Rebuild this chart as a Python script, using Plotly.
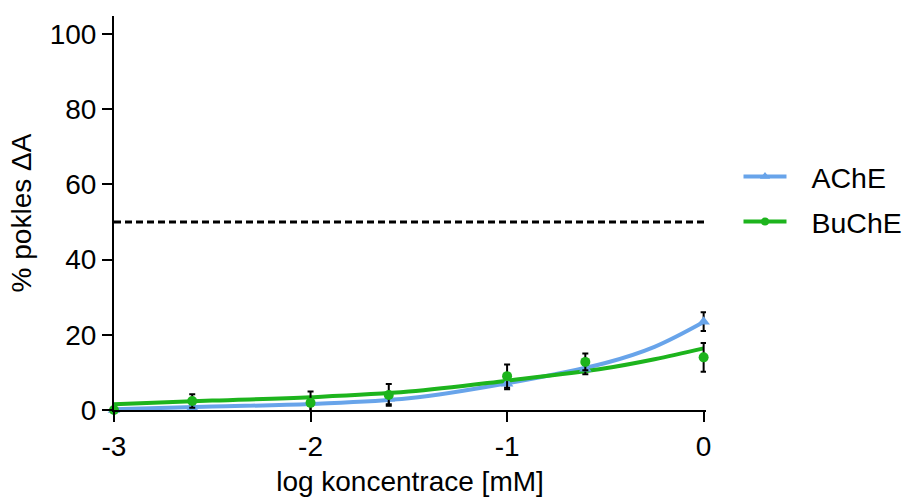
import plotly.graph_objects as go

# Measured points (log concentration [mM])
log_conc = [-3, -2.602, -2, -1.602, -1, -0.602, 0]
ache_mean = [0.0, 0.5, -0.5, 3.0, 7.0, 11.0, 23.5]
ache_err = [0.5, 1.0, 2.5, 1.5, 1.5, 1.5, 2.5]
buche_mean = [0.0, 2.4, 1.9, 4.0, 9.0, 12.8, 14.0]
buche_err = [0.5, 1.8, 3.0, 2.9, 3.1, 2.2, 3.8]

# Fitted curves
curve_x = [-3, -2.5, -2, -1.5, -1, -0.5, -0.25, 0]
ache_curve = [0.2, 0.9, 1.6, 3.1, 7.1, 12.5, 16.8, 23.4]
buche_curve = [1.5, 2.5, 3.4, 4.9, 7.8, 11.1, 13.5, 16.4]

threshold = 50
x_ticks = [-3, -2, -1, 0]
y_ticks = [0, 20, 40, 60, 80, 100]

BLUE = "#68A4EA"
GREEN = "#1DB41D"
FONT = "Liberation Sans, Arial, sans-serif"

fig = go.Figure()

# curves
fig.add_trace(go.Scatter(x=curve_x, y=ache_curve, mode="lines", line=dict(color=BLUE, width=4, shape="spline", smoothing=1.0),
                         showlegend=False, cliponaxis=False, hoverinfo="skip"))
fig.add_trace(go.Scatter(x=curve_x, y=buche_curve, mode="lines", line=dict(color=GREEN, width=4, shape="spline", smoothing=1.0),
                         showlegend=False, cliponaxis=False, hoverinfo="skip"))

# points with error bars
fig.add_trace(go.Scatter(x=log_conc, y=ache_mean, mode="markers",
                         marker=dict(symbol="triangle-up", size=11, color=BLUE),
                         error_y=dict(type="data", array=ache_err, color="black", thickness=2, width=3),
                         showlegend=False, cliponaxis=False))
fig.add_trace(go.Scatter(x=log_conc, y=buche_mean, mode="markers",
                         marker=dict(symbol="circle", size=10, color=GREEN),
                         error_y=dict(type="data", array=buche_err, color="black", thickness=2, width=3),
                         showlegend=False, cliponaxis=False))

# legend entries
fig.add_trace(go.Scatter(x=[None], y=[None], mode="lines+markers", name="\u2002\u2009AChE", legendgroup="a",
                         line=dict(color=BLUE, width=4), marker=dict(symbol="triangle-up", size=9, color=BLUE)))
fig.add_trace(go.Scatter(x=[None], y=[None], mode="lines+markers", name="\u2002\u2009BuChE", legendgroup="b",
                         line=dict(color=GREEN, width=4), marker=dict(symbol="circle", size=8, color=GREEN)))

fig.add_shape(type="line", xref="paper", x0=0, x1=1, yref="y", y0=threshold, y1=threshold,
              line=dict(color="black", width=3, dash="7px,4px"))

axis_common = dict(showgrid=False, zeroline=False, showline=True, linecolor="black", linewidth=2,
                   ticks="outside", ticklen=10, tickwidth=2, tickcolor="black", automargin=False,
                   tickfont=dict(family=FONT, size=28, color="black"))

fig.update_layout(
    width=915, height=498,
    margin=dict(l=114, r=209, t=16, b=88, autoexpand=False),
    paper_bgcolor="white", plot_bgcolor="white",
    font=dict(family=FONT, color="black"),
    xaxis=dict(range=[-3, 0.012], tickvals=x_ticks, ticktext=[str(v) for v in x_ticks],
               title=dict(text="log koncentrace [mM]", font=dict(family=FONT, size=28, color="black"), standoff=11),
               **axis_common),
    yaxis=dict(range=[0, 104.8], tickvals=y_ticks, ticktext=[str(v) for v in y_ticks],
               title=dict(text="% pokles ΔA", font=dict(family=FONT, size=28, color="black"), standoff=10),
               **axis_common),
    legend=dict(xref="container", yref="container", x=0.8071, y=0.5994, xanchor="left", yanchor="middle",
                font=dict(family=FONT, size=28.5, color="black"),
                itemwidth=43, bgcolor="rgba(0,0,0,0)", traceorder="grouped", tracegroupgap=5),
    showlegend=True,
)

fig.write_html("out.html", config={"displayModeBar": False},
               post_script="document.body.style.margin='0px';")
